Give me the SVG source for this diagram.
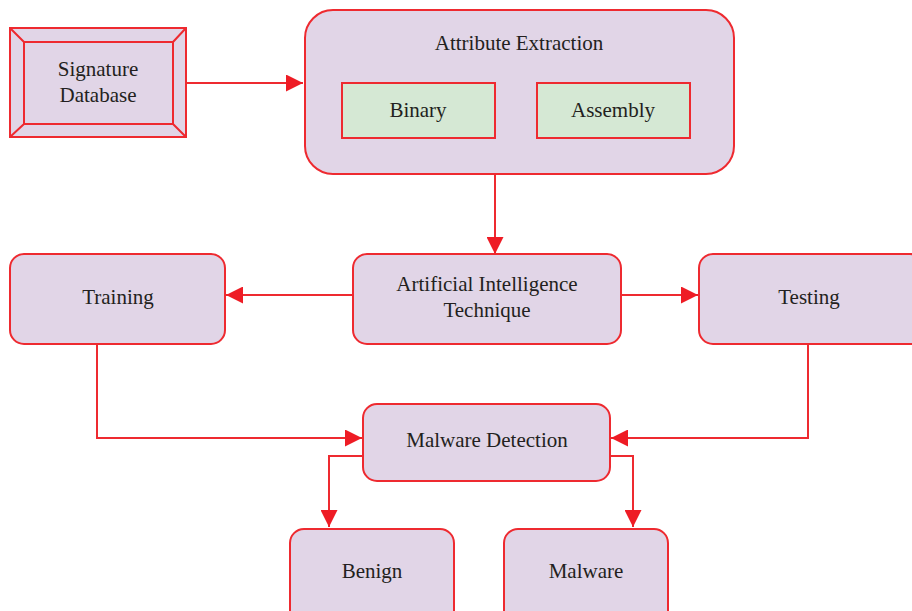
<svg xmlns="http://www.w3.org/2000/svg" width="912" height="611" viewBox="0 0 912 611">
  <style>
    .box { fill: #e1d5e7; stroke: #ee2a30; stroke-width: 2; }
    .sub { fill: #d5e8d4; stroke: #ee2a30; stroke-width: 2; }
    .edge { fill: none; stroke: #ee2a30; stroke-width: 2; }
    .bevel { fill: none; stroke: #ee2a30; stroke-width: 2; }
    text { font-family: "Liberation Serif", "DejaVu Serif", serif; font-size: 21px; fill: #231f20; text-anchor: middle; }
  </style>
  <defs>
    <marker id="head" viewBox="0 0 17 17" refX="17" refY="8.5" markerWidth="17" markerHeight="17" markerUnits="userSpaceOnUse" orient="auto">
      <path d="M0,0 L17,8.5 L0,17 Z" fill="#ee1c25"/>
    </marker>
  </defs>

  <g id="connectors">
    <path class="edge" d="M187,83 L303,83" marker-end="url(#head)"/>
    <path class="edge" d="M495,175 L495,254" marker-end="url(#head)"/>
    <path class="edge" d="M353,295 L226,295" marker-end="url(#head)"/>
    <path class="edge" d="M621,295 L698,295" marker-end="url(#head)"/>
    <path class="edge" d="M97,344 L97,438 L362,438" marker-end="url(#head)"/>
    <path class="edge" d="M808,344 L808,438 L611,438" marker-end="url(#head)"/>
    <path class="edge" d="M363,456 L329,456 L329,527" marker-end="url(#head)"/>
    <path class="edge" d="M610,456 L633,456 L633,527" marker-end="url(#head)"/>
  </g>

  <g id="signature-database">
    <rect class="box" x="10" y="28" width="176" height="109"/>
    <rect class="bevel" x="24" y="42" width="149" height="82"/>
    <path class="bevel" d="M10,28 L24,42 M186,28 L173,42 M10,137 L24,124 M186,137 L173,124"/>
    <text x="98" y="76">Signature</text>
    <text x="98" y="102">Database</text>
  </g>

  <g id="attribute-extraction">
    <rect class="box" x="305" y="10" width="429" height="164" rx="28" ry="28"/>
    <text x="519" y="50">Attribute Extraction</text>
    <g id="binary">
      <rect class="sub" x="342" y="83" width="153" height="55"/>
      <text x="418" y="117">Binary</text>
    </g>
    <g id="assembly">
      <rect class="sub" x="537" y="83" width="153" height="55"/>
      <text x="613" y="117">Assembly</text>
    </g>
  </g>

  <g id="ai-technique">
    <rect class="box" x="353" y="254" width="268" height="90" rx="14" ry="14"/>
    <text x="487" y="291">Artificial Intelligence</text>
    <text x="487" y="317">Technique</text>
  </g>

  <g id="training">
    <rect class="box" x="10" y="254" width="215" height="90" rx="14" ry="14"/>
    <text x="118" y="304">Training</text>
  </g>

  <g id="testing">
    <rect class="box" x="699" y="254" width="225" height="90" rx="14" ry="14"/>
    <text x="809" y="304">Testing</text>
  </g>

  <g id="malware-detection">
    <rect class="box" x="363" y="404" width="247" height="77" rx="14" ry="14"/>
    <text x="487" y="447">Malware Detection</text>
  </g>

  <g id="benign">
    <rect class="box" x="290" y="529" width="164" height="100" rx="14" ry="14"/>
    <text x="372" y="578">Benign</text>
  </g>

  <g id="malware">
    <rect class="box" x="504" y="529" width="164" height="100" rx="14" ry="14"/>
    <text x="586" y="578">Malware</text>
  </g>
</svg>
